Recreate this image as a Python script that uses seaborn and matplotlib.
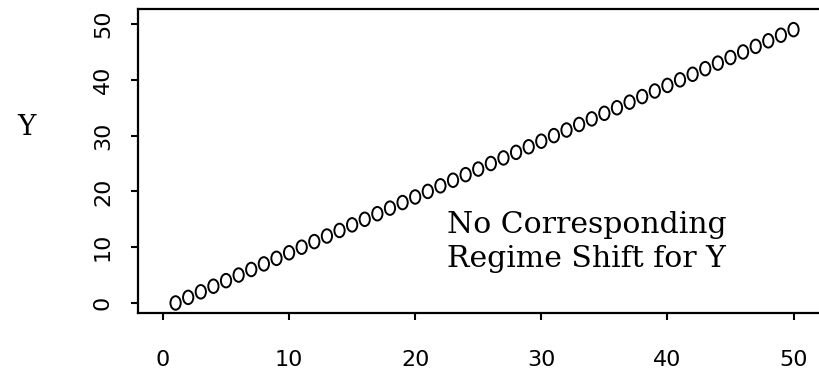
import numpy as np
import pandas as pd
import matplotlib
matplotlib.use("Agg")
import matplotlib.pyplot as plt
import seaborn as sns
from matplotlib.path import Path

# Data
x_vals = list(range(1, 51))
y_vals = list(range(0, 50))
x_ticks = [0, 10, 20, 30, 40, 50]
y_ticks = [0, 10, 20, 30, 40, 50]
annotation_lines = ["No Corresponding", "Regime Shift for Y"]
y_label = "Y"

df = pd.DataFrame({"x": x_vals, "y": y_vals})

sns.set_theme(style="white")
plt.rcParams['font.family'] = ['DejaVu Sans']

W, H = 820, 377
fig = plt.figure(figsize=(W / 100, H / 100), dpi=100)
left, right, top, bottom = 138, 820, 9, 313
ax = fig.add_axes([left / W, 1 - bottom / H, (right - left) / W, (bottom - top) / H])

circ = Path.unit_circle()
ell = Path(circ.vertices * np.array([0.76, 1.0]), circ.codes)

sns.scatterplot(data=df, x="x", y="y", ax=ax, marker=ell, s=95,
                facecolors="none", edgecolor="black", linewidth=1.4)

ax.set_xlim(-1.98, 52.1)
ax.set_ylim(-1.8, 52.7)
ax.set_xticks(x_ticks)
ax.set_yticks(y_ticks)
ax.set_xticklabels([str(t) for t in x_ticks], fontsize=16, color="black")
ax.set_yticklabels([str(t) for t in y_ticks], fontsize=16, rotation=90,
                   va="center", color="black")
ax.tick_params(axis="both", direction="out", length=5, width=1.5, color="black",
               bottom=True, left=True)
ax.tick_params(axis="x", pad=22)
ax.tick_params(axis="y", pad=13)
for s in ["left", "bottom", "top"]:
    ax.spines[s].set_visible(True)
    ax.spines[s].set_linewidth(1.6)
    ax.spines[s].set_color("black")
ax.spines["right"].set_visible(False)
ax.set_xlabel("")
ax.set_ylabel("")

fig.text(26 / W, 1 - 128 / H, y_label, fontsize=20, family="DejaVu Serif",
         ha="center", va="center", color="black")

# annotation: two lines, baselines placed in data units
ax.text(22.55, 12.5, annotation_lines[0], fontsize=21.5, family="DejaVu Serif",
        ha="left", va="baseline", color="black")
ax.text(22.55, 6.4, annotation_lines[1], fontsize=21.5, family="DejaVu Serif",
        ha="left", va="baseline", color="black")

fig.savefig("out.png", dpi=100)
